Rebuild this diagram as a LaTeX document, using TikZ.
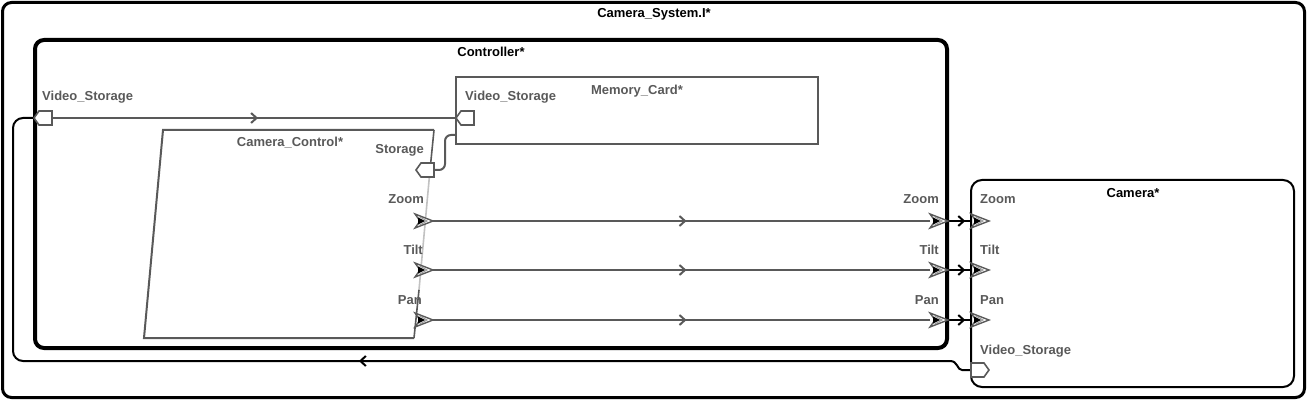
\documentclass[tikz,border=0pt]{standalone}
\usepackage{fontspec}
\setmainfont{Liberation Sans}
\usetikzlibrary{arrows.meta,decorations.markings}
\definecolor{gr}{HTML}{595959}
\definecolor{lgr}{HTML}{9A9A9A}
\begin{document}
\begin{tikzpicture}[x=1pt,y=-1pt,
  txt/.style={font=\fontsize{13}{15}\selectfont\bfseries, inner sep=0pt},
  lbl/.style={txt, text=gr},
  box/.style={draw, inner sep=0pt},
  grline/.style={draw=gr, line width=2pt},
  blline/.style={draw=black, line width=2pt},
  midarrow/.style={postaction={decorate},
    decoration={markings, mark=at position #1 with {\arrow{Straight Barb[length=5.5pt,width=10pt,line width=2pt]}}}},
  pics/flowport/.style={code={
    \draw[draw=gr, line width=1.4pt, fill=white, line join=miter]
      (0,-7) -- (18,0) -- (0,7) -- (5,0) -- cycle;
    \draw[draw=lgr, line width=1pt] (4,-4.5) -- (12,0) -- (4,4.5);
    \fill[black] (3,-3.5) -- (10,0) -- (3,3.5) -- cycle;
  }},
  pics/inport/.style={code={
    \draw[draw=gr, line width=1.6pt, fill=white, line join=miter]
      (0,0) -- (5,-7) -- (18,-7) -- (18,7) -- (5,7) -- cycle;
  }},
  pics/outport/.style={code={
    \draw[draw=gr, line width=1.6pt, fill=white, line join=miter]
      (0,-7) -- (13,-7) -- (18,0) -- (13,7) -- (0,7) -- cycle;
  }}
]
\useasboundingbox (0,0) rectangle (1307,401);

% frames
\node[box, line width=3pt, rounded corners=9pt, minimum width=1302pt, minimum height=395pt] (sys) at (653.5,200) {};
\node[txt, anchor=base] (systitle) at (654,18) {Camera\_System.I*};

\node[box, line width=4pt, rounded corners=9pt, minimum width=912pt, minimum height=308pt] (ctrl) at (491,194) {};
\node[txt, anchor=base] (ctrltitle) at (491,57) {Controller*};

\node[box, draw=gr, line width=2pt, minimum width=362pt, minimum height=67pt] (mc) at (637,110.5) {};
\node[lbl, anchor=base] (mctitle) at (637,95) {Memory\_Card*};

\node[box, line width=2pt, rounded corners=11pt, minimum width=323pt, minimum height=207pt] (cam) at (1132.5,283.5) {};
\node[txt, anchor=base] (camtitle) at (1133,197) {Camera*};

% Camera_Control trapezoid
\coordinate (cc) at (290,234);
\draw[draw=gr, line width=2pt, line join=miter] (434,130) -- (163,130) -- (144,338) -- (414,338);
\draw[draw=gr, line width=1.6pt] (434,130) -- (430,170);
\draw[draw=lgr!60, line width=1.6pt] (430,170) -- (419,290);
\draw[draw=gr, line width=1.6pt] (419,290) -- (414,338);
\node[lbl, anchor=base] (cctitle) at (290,147) {Camera\_Control*};

% connector end points
\coordinate (ctlVS) at (52,118);
\coordinate (ctlVSl) at (34,118);
\coordinate (mcVS) at (456,118);
\coordinate (ccST) at (434,170);
\coordinate (mcE) at (456,135);
\coordinate (ccZ) at (433,221);
\coordinate (ccT) at (433,270);
\coordinate (ccP) at (433,320);
\coordinate (ctZi) at (930,221);
\coordinate (ctTi) at (930,270);
\coordinate (ctPi) at (930,320);
\coordinate (ctZo) at (948,221);
\coordinate (ctTo) at (948,270);
\coordinate (ctPo) at (948,320);
\coordinate (caZ) at (971,221);
\coordinate (caT) at (971,270);
\coordinate (caP) at (971,320);
\coordinate (caVS) at (971,370);

% connectors
\draw[grline, midarrow=0.51] (ctlVS) -- (mcVS);
\draw[grline, rounded corners=6pt] (ccST) -- (445,170) -- (445,135) -- (mcE);
\draw[grline, midarrow=0.51] (ccZ) -- (ctZi);
\draw[grline, midarrow=0.51] (ccT) -- (ctTi);
\draw[grline, midarrow=0.51] (ccP) -- (ctPi);
\draw[blline, midarrow=0.75] (ctZo) -- (caZ);
\draw[blline, midarrow=0.75] (ctTo) -- (caT);
\draw[blline, midarrow=0.75] (ctPo) -- (caP);
\draw[blline, midarrow=616pt] (caVS) -- (962,370) .. controls (957,370) and (958,361) .. (950,361)
  [rounded corners=10pt] -- (13,361) -- (13,118) -- (ctlVSl);

% ports
\pic at (34,118) {inport};
\pic at (456,118) {inport};
\pic at (416,170) {inport};
\pic at (415,221) {flowport};
\pic at (415,270) {flowport};
\pic at (415,320) {flowport};
\pic at (930,221) {flowport};
\pic at (930,270) {flowport};
\pic at (930,320) {flowport};
\pic at (971,221) {flowport};
\pic at (971,270) {flowport};
\pic at (971,320) {flowport};
\pic at (971,370) {outport};

% port labels
\node[lbl, anchor=base west] (l1) at (42,101) {Video\_Storage};
\node[lbl, anchor=base west] (l2) at (465,101) {Video\_Storage};
\node[lbl, anchor=base east] (l3) at (424,154) {Storage};
\node[lbl, anchor=base east] (l4) at (424,204) {Zoom};
\node[lbl, anchor=base east] (l5) at (423,254) {Tilt};
\node[lbl, anchor=base east] (l6) at (422,304) {Pan};
\node[lbl, anchor=base east] (l7) at (939,204) {Zoom};
\node[lbl, anchor=base east] (l8) at (939,254) {Tilt};
\node[lbl, anchor=base east] (l9) at (939,304) {Pan};
\node[lbl, anchor=base west] (l10) at (980,204) {Zoom};
\node[lbl, anchor=base west] (l11) at (980,254) {Tilt};
\node[lbl, anchor=base west] (l12) at (980,304) {Pan};
\node[lbl, anchor=base west] (l13) at (980,354) {Video\_Storage};
\end{tikzpicture}
\end{document}
